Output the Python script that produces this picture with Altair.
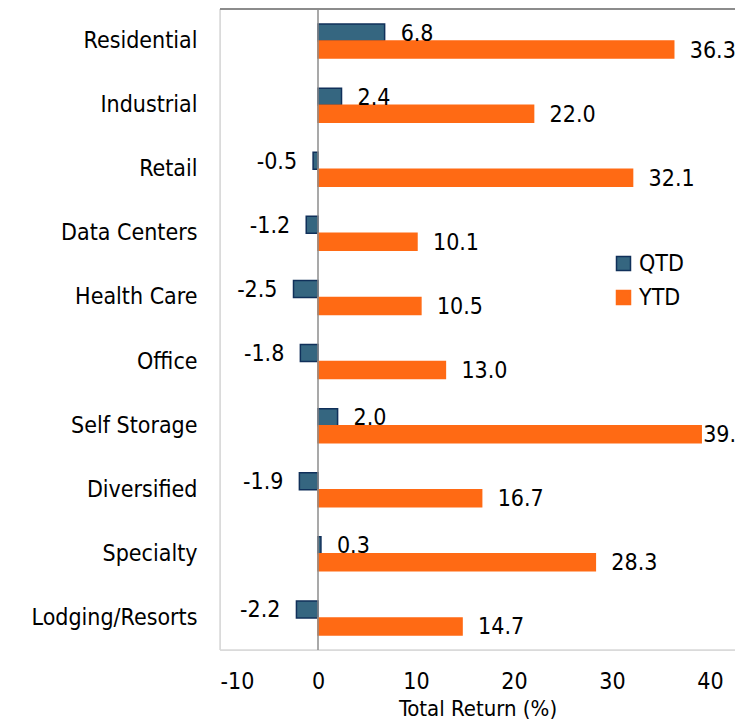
import altair as alt
import pandas as pd

categories = ["Residential", "Industrial", "Retail", "Data Centers", "Health Care",
              "Office", "Self Storage", "Diversified", "Specialty", "Lodging/Resorts"]
qtd = [6.8, 2.4, -0.5, -1.2, -2.5, -1.8, 2.0, -1.9, 0.3, -2.2]
ytd = [36.3, 22.0, 32.1, 10.1, 10.5, 13.0, 39.1, 16.7, 28.3, 14.7]
series = ["QTD", "YTD"]
x_ticks = [-10, 0, 10, 20, 30, 40]

rows = []
for c, q, y in zip(categories, qtd, ytd):
    rows.append({"cat": c, "s": "QTD", "v": q, "lbl": f"{q:.1f}"})
    rows.append({"cat": c, "s": "YTD", "v": y, "lbl": f"{y:.1f}"})
df = pd.DataFrame(rows)

FONT = "DejaVu Sans Condensed"
FS = 23
W, H = 515, 641
XMIN, XMAX = -10, -10 + 515 / 9.8

QTD_FILL, QTD_STROKE = "#356680", "#10305a"
YTD_FILL = "#FF6A14"

xscale = alt.Scale(domain=[XMIN, XMAX], nice=False, zero=False)
yenc = alt.Y("cat:N", sort=categories, scale=alt.Scale(paddingInner=0.47, paddingOuter=0.235),
             axis=alt.Axis(title=None, ticks=False, domain=False, labelFont=FONT,
                           labelFontSize=FS, labelColor="#000000", labelPadding=23))
yoff = alt.YOffset("s:N", sort=series, scale=alt.Scale(paddingInner=0, paddingOuter=0))

leg = alt.Legend(title=None, orient="none", legendX=392, legendY=243,
                 symbolType="square", symbolSize=196, labelFont=FONT,
                 labelFontSize=FS, labelColor="#000000", rowPadding=10,
                 labelOffset=4, symbolStrokeWidth=1.5)

base = alt.Chart(df)

bars = base.mark_bar(strokeWidth=1.5).encode(
    x=alt.X("v:Q", scale=xscale,
            axis=alt.Axis(values=x_ticks, title="Total Return (%)", grid=False, ticks=False,
                          domain=False, labelFont=FONT, labelFontSize=FS, labelColor="#000000",
                          labelPadding=20, labelExpr="'' + datum.value",
                          titleFont=FONT, titleFontSize=22,
                          titleFontWeight="normal", titleColor="#000000",
                          titleY=65, titleBaseline="alphabetic")),
    x2=alt.datum(0),
    y=yenc,
    yOffset=yoff,
    fill=alt.Fill("s:N", sort=series, scale=alt.Scale(domain=series, range=[QTD_FILL, YTD_FILL]),
                  legend=leg),
    stroke=alt.Stroke("s:N", sort=series, scale=alt.Scale(domain=series, range=[QTD_STROKE, YTD_FILL]),
                      legend=leg),
)

txt_common = dict(font=FONT, fontSize=FS, color="#000000", baseline="middle", dy=1)
pos = base.transform_filter("datum.v >= 0 && datum.v < 38").mark_text(align="left", dx=16, **txt_common).encode(
    x=alt.X("v:Q", scale=xscale), y=yenc, yOffset=yoff, text="lbl:N")
edge = base.transform_filter("datum.v >= 38").mark_text(align="left", dx=2, **txt_common).encode(
    x=alt.X("v:Q", scale=xscale), y=yenc, yOffset=yoff, text="lbl:N")
neg = base.transform_filter("datum.v < 0").mark_text(align="right", dx=-16, **txt_common).encode(
    x=alt.X("v:Q", scale=xscale), y=yenc, yOffset=yoff, text="lbl:N")

one = pd.DataFrame({"z": [0]})
zero = alt.Chart(one).mark_rule(color="#8c8c8c", strokeWidth=1.5).encode(
    x=alt.X("z:Q", scale=xscale))
top = alt.Chart(one).mark_rule(color="#8c8c8c", strokeWidth=2).encode(
    y=alt.value(0), x=alt.value(0), x2=alt.value(W))
left = alt.Chart(one).mark_rule(color="#d9d9d9", strokeWidth=1.5).encode(
    x=alt.value(0), y=alt.value(0), y2=alt.value(H))
bottom = alt.Chart(one).mark_rule(color="#d9d9d9", strokeWidth=1.5).encode(
    y=alt.value(H), x=alt.value(0), x2=alt.value(W))

chart = alt.layer(left, bottom, bars, zero, top, pos, edge, neg).properties(
    width=W, height=H,
    autosize=alt.AutoSizeParams(type="none"),
    padding={"left": 212, "top": 1, "right": 0, "bottom": 70},
).configure_view(stroke=None).configure(background="white")

chart.save("out.html", embed_options={"renderer": "svg", "actions": False})
